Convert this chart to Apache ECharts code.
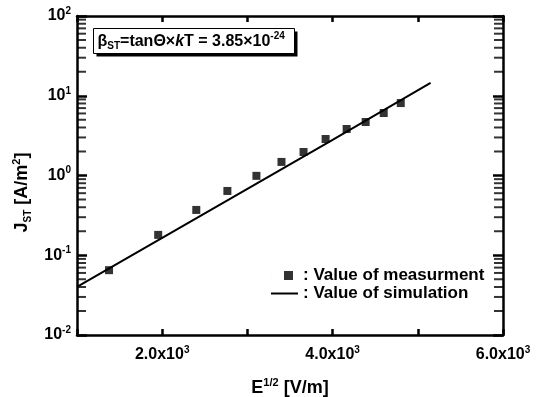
<!DOCTYPE html>
<html>
<head>
<meta charset="utf-8">
<script src="https://cdn.jsdelivr.net/npm/echarts@6/dist/echarts.min.js"></script>
<style>
  html, body { margin: 0; padding: 0; background: #fff; }
  #chart { width: 543px; height: 397px; }
</style>
</head>
<body>
<div id="chart"></div>
<script>
// measured points (x = E^1/2, y = J_ST)
const measX = [1376, 1953, 2400, 2765, 3106, 3400, 3659, 3918, 4165, 4388, 4600, 4800];
const measY = [0.065, 0.18, 0.37, 0.64, 0.99, 1.48, 1.97, 2.87, 3.83, 4.69, 6.08, 8.1];
// simulation curve
const simX = [1000, 2000, 3000, 4000, 5150];
const simY = [0.040, 0.165, 0.68, 2.8, 14.5];
// log minor tick values
const minorVals = [0.02, 0.03, 0.04, 0.05, 0.06, 0.07, 0.08, 0.09,
                   0.2, 0.3, 0.4, 0.5, 0.6, 0.7, 0.8, 0.9,
                   2, 3, 4, 5, 6, 7, 8, 9,
                   20, 30, 40, 50, 60, 70, 80, 90];
const xMin = 1000, xMax = 6000;

const FONT = '"Liberation Sans", Arial, sans-serif';
function txt(size, extra) {
    return Object.assign({ fontSize: size, fontWeight: 'bold', fontFamily: FONT, color: '#000' }, extra || {});
}
const rich = {
    b: txt(16, { lineHeight: 20 }),
    sup: txt(10, { verticalAlign: 'top', lineHeight: 9 }),
    sub: txt(10, { verticalAlign: 'bottom', lineHeight: 9 }),
    it: txt(16, { fontStyle: 'italic', lineHeight: 20 })
};

let myChart = echarts.init(document.getElementById('chart'));

const frameLine = { show: true, lineStyle: { color: '#000', width: 2.5 } };
const tick = (len) => ({ show: true, inside: true, length: len, lineStyle: { width: 2.5, color: '#000' } });

// small inside ticks for the log decades, drawn as tiny marks on both frame edges
function minorTickSeries(xVal, offset) {
    return {
        name: 'minor' + xVal,
        type: 'scatter',
        data: minorVals.map(v => [xVal, v]),
        symbol: 'rect',
        symbolSize: [9, 2],
        symbolOffset: [offset, 0],
        itemStyle: { color: '#000' },
        clip: false,
        z: 5
    };
}

myChart.setOption({
    animation: false,
    backgroundColor: '#fff',
    grid: { left: 77, right: 40, top: 16, bottom: 62, outerBoundsMode: 'none', containLabel: false },
    xAxis: [
        {
            type: 'value', min: xMin, max: xMax, interval: 1000,
            axisLine: frameLine,
            axisTick: tick(6),
            splitLine: { show: false },
            axisLabel: {
                margin: 10,
                formatter: function (v) {
                    if (v % 2000 !== 0) return '';
                    return '{b|' + (v / 1000).toFixed(1) + 'x10}{sup|3}';
                },
                rich: rich
            },
            name: '{b|E}{sup|1/2}{b| [V/m]}',
            nameLocation: 'middle',
            nameGap: 42,
            nameTextStyle: { rich: { b: txt(18, { lineHeight: 22 }), sup: txt(11, { verticalAlign: 'top', lineHeight: 10 }) } }
        },
        {
            type: 'value', min: xMin, max: xMax, interval: 1000, position: 'top',
            axisLine: frameLine,
            axisTick: tick(6),
            splitLine: { show: false },
            axisLabel: { show: false }
        }
    ],
    yAxis: [
        {
            type: 'log', logBase: 10, min: 0.01, max: 100,
            axisLine: frameLine,
            axisTick: tick(10),
            splitLine: { show: false },
            axisLabel: {
                margin: 6,
                formatter: function (v) {
                    return '{b|10}{sup|' + Math.round(Math.log10(v)) + '}';
                },
                rich: rich
            },
            name: '{b|J}{sub|ST}{b| [A/m}{sup|2}{b|]}',
            nameLocation: 'middle',
            nameGap: 42,
            nameRotate: 90,
            nameTextStyle: {
                padding: [0, 34, 0, 0],
                rich: {
                    b: txt(18, { lineHeight: 22 }),
                    sup: txt(11, { verticalAlign: 'top', lineHeight: 10 }),
                    sub: txt(10, { verticalAlign: 'bottom', lineHeight: 9 })
                }
            }
        },
        {
            type: 'log', logBase: 10, min: 0.01, max: 100, position: 'right',
            axisLine: frameLine,
            axisTick: tick(10),
            splitLine: { show: false },
            axisLabel: { show: false }
        }
    ],
    legend: {
        orient: 'vertical',
        left: 266, top: 262,
        itemWidth: 27, itemHeight: 9, itemGap: 1,
        data: [
            { name: 'Value of measurment', icon: 'path://M0,0h0.01v9h-0.01z M13,0h9v9h-9z M26.99,0h0.01v9h-0.01z' },
            { name: 'Value of simulation', icon: 'path://M0,3.8h27v2h-27z' }
        ],
        formatter: ': {name}',
        textStyle: txt(17),
        selectedMode: false
    },
    graphic: [
        {
            type: 'group', left: 93, top: 28,
            children: [
                { type: 'rect', shape: { x: 3, y: 3, width: 201, height: 25 }, style: { fill: '#000' } },
                { type: 'rect', shape: { x: 0, y: 0, width: 201, height: 25 }, style: { fill: '#fff', stroke: '#000', lineWidth: 1 } },
                {
                    type: 'text', x: 4, y: 3,
                    style: {
                        text: '{b|β}{sub|ST}{b|=tanΘ×}{it|k}{b|T = 3.85×10}{sup|-24}',
                        rich: rich
                    }
                }
            ]
        }
    ],
    series: [
        {
            name: 'Value of simulation',
            type: 'line',
            data: simX.map((x, i) => [x, simY[i]]),
            symbol: 'none',
            lineStyle: { color: '#000', width: 2 },
            itemStyle: { color: '#000' },
            z: 3
        },
        {
            name: 'Value of measurment',
            type: 'scatter',
            data: measX.map((x, i) => [x, measY[i]]),
            symbol: 'rect',
            symbolSize: 8,
            itemStyle: { color: '#000' },
            z: 4
        },
        minorTickSeries(xMin, 4.5),
        minorTickSeries(xMax, -4.5)
    ]
});
</script>
</body>
</html>
